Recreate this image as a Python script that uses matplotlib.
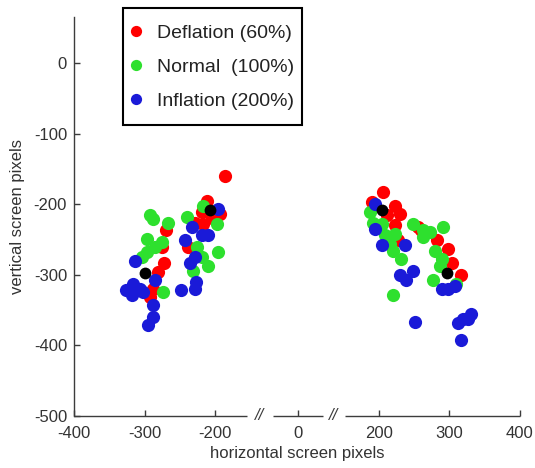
import numpy as np
import matplotlib
matplotlib.use("Agg")
import matplotlib.pyplot as plt
import matplotlib.transforms as mtransforms
from matplotlib.patches import Rectangle

plt.rcParams['font.family'] = ['Liberation Sans', 'DejaVu Sans']

# ---- data (screen pixels) ----
deflation_x = [-269, -276, -272, -281, -288, -292,
               -186, -212, -193, -219, -217, -229, -238, -205,
               206, 190, 223, 230, 223, 227, 212,
               256, 260, 282, 298, 303, 317]
deflation_y = [-237, -261, -284, -296, -320, -332,
               -160, -195, -214, -211, -228, -226, -261, -219,
               -183, -197, -202, -214, -230, -251, -215,
               -233, -236, -251, -263, -284, -301]

normal_x = [-288, -292, -267, -296, -276, -285, -297, -304, -274,
            -217, -240, -198, -226, -196, -219, -210, -231,
            187, 192, 204, 208, 223, 216, 220, 232, 249, 220,
            263, 272, 291, 263, 279, 289, 286, 277, 310]
normal_y = [-221, -216, -227, -249, -254, -261, -268, -275, -324,
            -202, -218, -228, -261, -268, -275, -287, -294,
            -211, -226, -228, -244, -242, -256, -266, -277, -228, -329,
            -237, -240, -233, -247, -266, -277, -287, -308, -313]

inflation_x = [-314, -316, -318, -302, -285, -288, -288, -295, -306, -326,
               -196, -233, -219, -210, -243, -229, -236, -248, -229, -227,
               194, 194, 204, 237, 230, 249, 239, 251,
               289, 298, 308, 319, 331, 312, 317, 326]
inflation_y = [-280, -313, -329, -324, -307, -343, -360, -371, -320, -322,
               -207, -233, -244, -244, -251, -275, -284, -322, -320, -310,
               -200, -235, -258, -258, -301, -294, -308, -367,
               -320, -320, -316, -362, -355, -369, -393, -362]

mean_x = [-300, -207, 205, 296]
mean_y = [-298, -209, -209, -298]

labels = ['Deflation (60%)', 'Normal  (100%)', 'Inflation (200%)']
colors = ['#ff0000', '#2ee02e', '#1a1ad8']

x_ticks = [-400, -300, -200, 0, 200, 300, 400]
y_ticks = [0, -100, -200, -300, -400, -500]

# broken-axis mapping (compressed gaps)
xp = [-1000, -155, -35, 35, 152, 1000]
up = [-1000, -155, -117.7, -47.7, -16, 832]

def fwd(x):
    return np.interp(x, xp, up)

def inv(u):
    return np.interp(u, up, xp)

W, H = 535, 468
fig = plt.figure(figsize=(W / 100, H / 100), dpi=100)
ax = fig.add_axes([74 / W, 52 / H, 446 / W, 399 / H])
ax.set_xscale('function', functions=(fwd, inv))
ax.set_xlim(-400, 400)
ax.set_ylim(-500, 65)

ms = 9.5
ax.plot(deflation_x, deflation_y, 'o', color=colors[0], ms=ms, mec='none', label=labels[0])
ax.plot(normal_x, normal_y, 'o', color=colors[1], ms=ms, mec='none', label=labels[1])
ax.plot(inflation_x, inflation_y, 'o', color=colors[2], ms=ms, mec='none', label=labels[2])
ax.plot(mean_x, mean_y, 'o', color='black', ms=8.5, mec='none')

axcol = '#3c3c3c'
for s in ['top', 'right', 'bottom']:
    ax.spines[s].set_visible(False)
ax.spines['left'].set_color(axcol)
ax.spines['left'].set_linewidth(1.0)

# broken x axis line
for a, b in [(-400, -155), (-35, 35), (152, 400)]:
    ax.plot([a, b], [-500, -500], color=axcol, lw=1.0, clip_on=False, solid_capstyle='butt')
trans = mtransforms.blended_transform_factory(ax.transData, ax.transAxes)
for xm in [-95, 93.5]:
    ax.text(xm, 0.0, '//', transform=trans, ha='center', va='center',
            fontsize=12, color=axcol, style='italic')

ax.set_xticks(x_ticks)
ax.set_xticklabels([str(v) for v in x_ticks])
ax.set_yticks(y_ticks)
ax.set_yticklabels([str(v) for v in y_ticks])
ax.tick_params(direction='in', length=4, width=1.0, color=axcol,
               labelsize=12, labelcolor='#333333')
ax.tick_params(axis='x', pad=7)
ax.tick_params(axis='y', pad=5)
ax.minorticks_off()

ax.set_xlabel('horizontal screen pixels', fontsize=12, color='#333333', labelpad=4)
ax.set_ylabel('vertical screen pixels', fontsize=12, color='#333333', labelpad=6)

# legend contents (no frame) + separate box
leg = ax.legend(loc='upper left', bbox_to_anchor=(130.2 / W, 1 - 24.3 / H),
                bbox_transform=fig.transFigure, borderaxespad=0, borderpad=0,
                fontsize=14, frameon=False, handlelength=0.6,
                handletextpad=0.78, labelspacing=0.84,
                markerscale=0.85, numpoints=1)
for t in leg.get_texts():
    t.set_color('#222222')
box = Rectangle((123 / W, 1 - 125 / H), 179 / W, 117 / H, transform=fig.transFigure,
                fill=False, edgecolor='black', lw=1.5, clip_on=False, zorder=4)
ax.add_patch(box)

fig.savefig('out.png', dpi=100)
